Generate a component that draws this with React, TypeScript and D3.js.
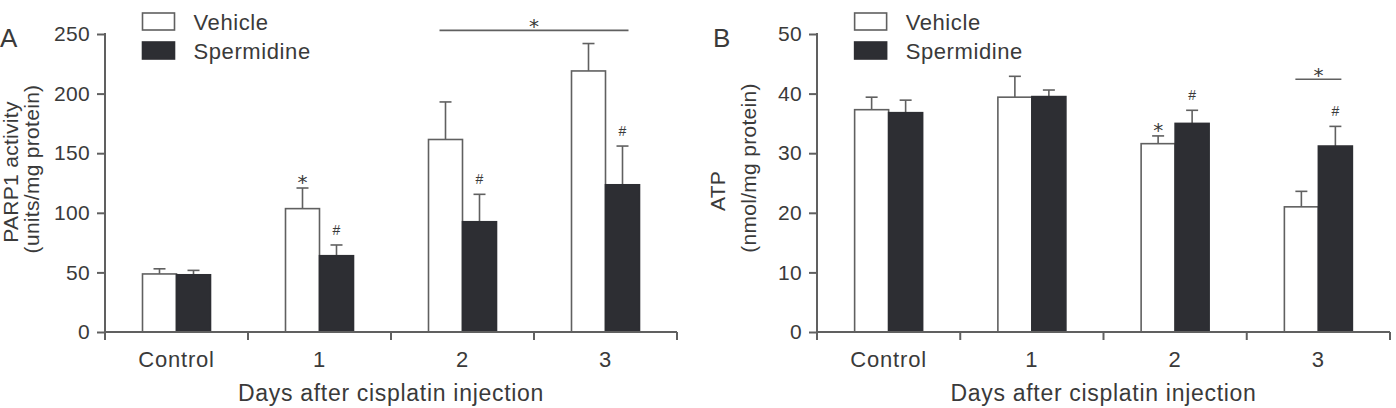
import { useEffect, useRef } from 'react';
import * as d3 from 'd3';

const categories = ['Control', '1', '2', '3'];
const seriesNames = ['Vehicle', 'Spermidine'];

// Panel A: PARP1 activity (units/mg protein)
const parpVehicle = [48.7, 103.5, 161.5, 219];
const parpVehicleErr = [4.3, 17.3, 31.5, 23];
const parpSpermidine = [48, 64, 92.5, 123.5];
const parpSpermidineErr = [3.7, 9, 23, 32.5];
const parpTicks = [0, 50, 100, 150, 200, 250];

// Panel B: ATP (nmol/mg protein)
const atpVehicle = [37.3, 39.4, 31.6, 21];
const atpVehicleErr = [2.1, 3.5, 1.3, 2.6];
const atpSpermidine = [36.8, 39.5, 35, 31.2];
const atpSpermidineErr = [2.1, 1.1, 2.2, 3.3];
const atpTicks = [0, 10, 20, 30, 40, 50];

// significance marks: category, series index, symbol
const parpMarks: [string, number, string][] = [['1', 0, '*'], ['1', 1, '#'], ['2', 1, '#'], ['3', 1, '#']];
const atpMarks: [string, number, string][] = [['2', 0, '*'], ['2', 1, '#'], ['3', 1, '#']];
// brackets: from category, to category, level
const parpBracket: [string, string, number] = ['2', '3', 253];
const atpBracket: [string, string, number] = ['3', '3', 42.4];

const FONT = '"Liberation Sans", Arial, sans-serif';
const TEXT = '#3a3a3a';
const LINE = '#606060';
const DARK = '#2d2e33';

type Panel = {
  letter: string;
  letterX: number;
  left: number;
  right: number;
  max: number;
  ticks: number[];
  vehicle: number[];
  vehicleErr: number[];
  spermidine: number[];
  spermidineErr: number[];
  marks: [string, number, string][];
  bracket: [string, string, number];
  titles: { text: string; x: number; y: number }[];
};

const App = () => {
  const svgRef = useRef<SVGSVGElement>(null);

  useEffect(() => {
    if (!svgRef.current) return;
    const svg = d3.select(svgRef.current);
    svg.selectAll('*').remove();

    const top = 34;
    const bottom = 332;

    const panels: Panel[] = [
      {
        letter: 'A', letterX: 0, left: 105, right: 677, max: 250, ticks: parpTicks,
        vehicle: parpVehicle, vehicleErr: parpVehicleErr,
        spermidine: parpSpermidine, spermidineErr: parpSpermidineErr,
        marks: parpMarks, bracket: parpBracket,
        titles: [
          { text: 'PARP1 activity', x: 18, y: 172 },
          { text: '(units/mg protein)', x: 39, y: 169 },
        ],
      },
      {
        letter: 'B', letterX: 713, left: 817, right: 1390, max: 50, ticks: atpTicks,
        vehicle: atpVehicle, vehicleErr: atpVehicleErr,
        spermidine: atpSpermidine, spermidineErr: atpSpermidineErr,
        marks: atpMarks, bracket: atpBracket,
        titles: [
          { text: 'ATP', x: 725, y: 191 },
          { text: '(nmol/mg protein)', x: 756, y: 168 },
        ],
      },
    ];

    panels.forEach(p => {
      const g = svg.append('g');

      const x0 = d3.scaleBand<string>().domain(categories).range([p.left, p.right]).padding(0);
      const half = x0.bandwidth() / 2;
      const x1 = d3.scaleBand<string>().domain(seriesNames).range([half - 34, half + 34]).padding(0);
      const y = d3.scaleLinear().domain([0, p.max]).range([bottom, top]);

      const rows = categories.map((c, i) => ({
        cat: c,
        vals: [
          { s: seriesNames[0], v: p.vehicle[i], e: p.vehicleErr[i] },
          { s: seriesNames[1], v: p.spermidine[i], e: p.spermidineErr[i] },
        ],
      }));

      // error bars (drawn first so bars cover the stem base)
      rows.forEach(r => {
        r.vals.forEach(d => {
          const cx = (x0(r.cat) as number) + (x1(d.s) as number) + x1.bandwidth() / 2;
          g.append('line')
            .attr('x1', cx).attr('x2', cx)
            .attr('y1', y(d.v)).attr('y2', y(d.v + d.e))
            .attr('stroke', LINE).attr('stroke-width', 1.6);
          g.append('line')
            .attr('x1', cx - 6).attr('x2', cx + 6)
            .attr('y1', y(d.v + d.e)).attr('y2', y(d.v + d.e))
            .attr('stroke', LINE).attr('stroke-width', 1.6);
        });
      });

      // bars
      rows.forEach(r => {
        r.vals.forEach((d, si) => {
          g.append('rect')
            .attr('x', (x0(r.cat) as number) + (x1(d.s) as number))
            .attr('y', y(d.v))
            .attr('width', x1.bandwidth())
            .attr('height', bottom - y(d.v))
            .attr('fill', si === 0 ? '#fff' : DARK)
            .attr('stroke', si === 0 ? LINE : DARK)
            .attr('stroke-width', 1.6);
        });
      });

      // significance marks
      p.marks.forEach(([cat, si, sym]) => {
        const i = categories.indexOf(cat);
        const v = si === 0 ? p.vehicle[i] + p.vehicleErr[i] : p.spermidine[i] + p.spermidineErr[i];
        const cx = (x0(cat) as number) + (x1(seriesNames[si]) as number) + x1.bandwidth() / 2;
        g.append('text')
          .attr('x', cx)
          .attr('y', sym === '*' ? y(v) + 1 : y(v) - 10)
          .attr('text-anchor', 'middle')
          .attr('fill', TEXT)
          .style('font-family', sym === '*' ? '"DejaVu Sans", sans-serif' : FONT)
          .style('font-size', sym === '*' ? '20px' : '14px')
          .text(sym);
      });

      // bracket
      const [bFrom, bTo, bLevel] = p.bracket;
      const bx1 = (x0(bFrom) as number) + (x1(seriesNames[0]) as number) + x1.bandwidth() / 2 - 6;
      const bx2 = (x0(bTo) as number) + (x1(seriesNames[1]) as number) + x1.bandwidth() / 2 + 6;
      g.append('line')
        .attr('x1', bx1).attr('x2', bx2)
        .attr('y1', y(bLevel)).attr('y2', y(bLevel))
        .attr('stroke', LINE).attr('stroke-width', 1.6);
      g.append('text')
        .attr('x', (bx1 + bx2) / 2)
        .attr('y', y(bLevel) + 3)
        .attr('text-anchor', 'middle')
        .attr('fill', TEXT)
        .style('font-family', '"DejaVu Sans", sans-serif')
        .style('font-size', '20px')
        .text('*');

      // y axis
      const yAxis = d3.axisLeft(y).tickValues(p.ticks).tickSize(8).tickPadding(7).tickFormat(d3.format('d'));
      const ya = g.append('g').attr('transform', `translate(${p.left},0)`).call(yAxis);
      ya.select('.domain').remove();
      ya.selectAll('line').attr('stroke', LINE).attr('stroke-width', 2);
      ya.selectAll('text')
        .attr('fill', TEXT)
        .style('font-family', FONT)
        .style('font-size', '21px')
        .style('letter-spacing', '0.3px');
      g.append('line')
        .attr('x1', p.left).attr('x2', p.left)
        .attr('y1', top - 1).attr('y2', bottom + 8)
        .attr('stroke', LINE).attr('stroke-width', 2);

      // x axis
      g.append('line')
        .attr('x1', p.left).attr('x2', p.right)
        .attr('y1', bottom).attr('y2', bottom)
        .attr('stroke', LINE).attr('stroke-width', 2);
      categories.slice(1).concat(['end']).forEach((c, i) => {
        const tx = c === 'end' ? p.right : (x0(categories[i + 1]) as number);
        g.append('line')
          .attr('x1', tx).attr('x2', tx)
          .attr('y1', bottom).attr('y2', bottom + 8)
          .attr('stroke', LINE).attr('stroke-width', 2);
      });
      categories.forEach(c => {
        g.append('text')
          .attr('x', (x0(c) as number) + half)
          .attr('y', 367)
          .attr('text-anchor', 'middle')
          .attr('fill', TEXT)
          .style('font-family', FONT)
          .style('font-size', '22px')
          .style('letter-spacing', '0.8px')
          .text(c);
      });
      g.append('text')
        .attr('x', (p.left + p.right) / 2)
        .attr('y', 401)
        .attr('text-anchor', 'middle')
        .attr('fill', TEXT)
        .style('font-family', FONT)
        .style('font-size', '23px')
        .style('letter-spacing', '0.7px')
        .text('Days after cisplatin injection');

      // y titles
      p.titles.forEach(t => {
        g.append('text')
          .attr('transform', `translate(${t.x},${t.y}) rotate(-90)`)
          .attr('text-anchor', 'middle')
          .attr('fill', TEXT)
          .style('font-family', FONT)
          .style('font-size', '21px')
          .style('letter-spacing', '0.3px')
          .text(t.text);
      });

      // panel letter
      g.append('text')
        .attr('x', p.letterX)
        .attr('y', 47)
        .attr('fill', TEXT)
        .style('font-family', FONT)
        .style('font-size', '26px')
        .text(p.letter);

      // legend
      const lx = (x0(categories[0]) as number) + (x1(seriesNames[0]) as number);
      seriesNames.forEach((s, i) => {
        g.append('rect')
          .attr('x', lx)
          .attr('y', 13 + i * 29)
          .attr('width', 32)
          .attr('height', 17)
          .attr('fill', i === 0 ? '#fff' : DARK)
          .attr('stroke', i === 0 ? LINE : DARK)
          .attr('stroke-width', 1.6);
        g.append('text')
          .attr('x', lx + 51)
          .attr('y', 29.5 + i * 29)
          .attr('fill', TEXT)
          .style('font-family', FONT)
          .style('font-size', '22px')
          .style('letter-spacing', '0.6px')
          .text(s);
      });
    });
  }, []);

  return (
    <svg
      ref={svgRef}
      width={1396}
      height={408}
      style={{ position: 'absolute', left: 0, top: 0, background: '#fff' }}
    ></svg>
  );
};

export default App;
